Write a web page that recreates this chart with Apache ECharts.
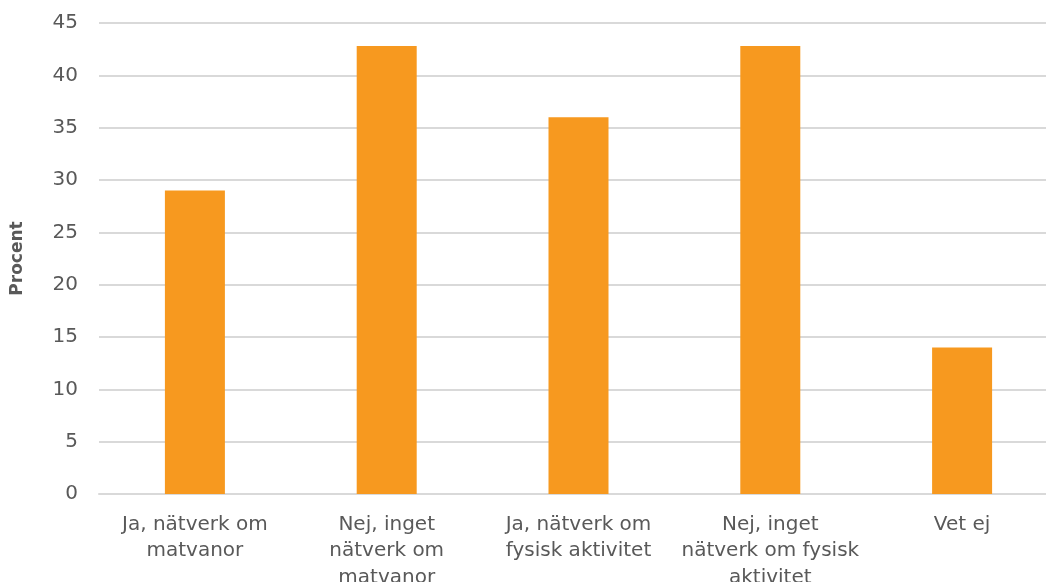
<!DOCTYPE html>
<html>
<head>
<meta charset="utf-8">
<style>
  html, body { margin: 0; padding: 0; background: #ffffff; }
  #chart { width: 1046px; height: 582px; }
</style>
<script src="https://cdn.jsdelivr.net/npm/echarts@6/dist/echarts.min.js"></script>
</head>
<body>
<div id="chart"></div>
<script>
// Svar: finns nätverk om matvanor / fysisk aktivitet
const categories = [
  'Ja, nätverk om\nmatvanor',
  'Nej, inget\nnätverk om\nmatvanor',
  'Ja, nätverk om\nfysisk aktivitet',
  'Nej, inget\nnätverk om fysisk\naktivitet',
  'Vet ej'
];
const values = [29, 42.8, 36, 42.8, 14];
const yAxisName = 'Procent';

const textColor = '#595959';
const gridColor = '#d9d9d9';
const fontFamily = '"DejaVu Sans", Verdana, sans-serif';

const chart = echarts.init(document.getElementById('chart'));
chart.setOption({
  animation: false,
  grid: {
    left: 99, top: 23, width: 959, height: 471,
    containLabel: false, outerBoundsMode: 'none'
  },
  xAxis: {
    type: 'category',
    data: categories,
    axisLine: { lineStyle: { color: gridColor, width: 2 } },
    axisTick: { show: false },
    axisLabel: {
      color: textColor, fontSize: 20, fontFamily: fontFamily,
      lineHeight: 26.7, margin: 17, interval: 0
    }
  },
  yAxis: {
    type: 'value',
    min: 0, max: 45, interval: 5,
    name: yAxisName,
    nameLocation: 'middle',
    nameGap: 73,
    nameTextStyle: { color: textColor, fontSize: 17, fontWeight: 'bold', fontFamily: fontFamily },
    axisLine: { show: false },
    axisTick: { show: false },
    axisLabel: { color: textColor, fontSize: 20, fontFamily: fontFamily, margin: 21 },
    splitLine: { lineStyle: { color: gridColor, width: 2 } }
  },
  series: [{
    type: 'bar',
    data: values,
    barWidth: 60,
    itemStyle: { color: '#F7991F' }
  }]
});
</script>
</body>
</html>
